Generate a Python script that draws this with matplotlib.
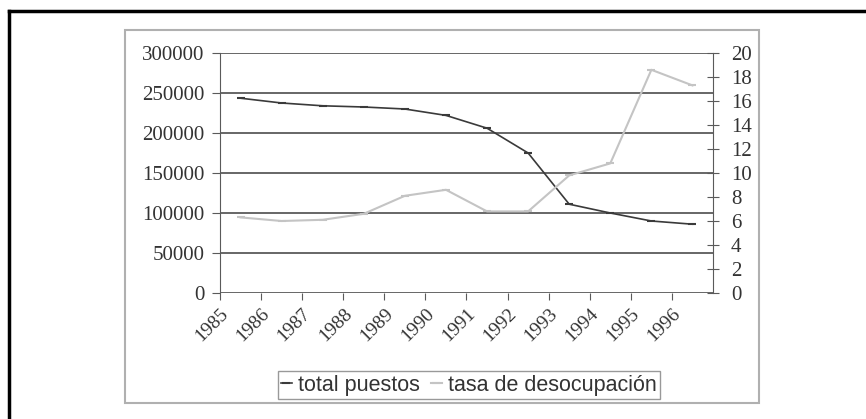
import numpy as np
import matplotlib
matplotlib.use("Agg")
import matplotlib.pyplot as plt
from matplotlib.patches import Rectangle
from matplotlib.lines import Line2D

# -----------------------------------------------------------------------------
# Data
# -----------------------------------------------------------------------------
years = ["1985", "1986", "1987", "1988", "1989", "1990",
         "1991", "1992", "1993", "1994", "1995", "1996"]
total_puestos = [243500, 237500, 234000, 232500, 230000, 222000,
                 206000, 175000, 111000, 100000, 90000, 86000]
tasa_desocupacion = [6.3, 6.0, 6.1, 6.6, 8.1, 8.6,
                     6.8, 6.8, 9.8, 10.8, 18.6, 17.3]

left_ticks = [0, 50000, 100000, 150000, 200000, 250000, 300000]
right_ticks = [0, 2, 4, 6, 8, 10, 12, 14, 16, 18, 20]

DARK = "#3a3a3a"
LIGHT = "#c4c4c4"
GRID = "#5a5a5a"

W, H = 866, 419
fig = plt.figure(figsize=(W / 100, H / 100), dpi=100)
fig.patch.set_facecolor("white")


def fx(px):
    return px / W


def fy(py):
    return 1 - py / H


# outer black frame (only left and top edges are visible)
fig.add_artist(Line2D([fx(9), fx(9)], [fy(11), fy(419)], color="black", lw=2.5,
                      transform=fig.transFigure))
fig.add_artist(Line2D([fx(9), fx(866)], [fy(11), fy(11)], color="black", lw=2.5,
                      transform=fig.transFigure))

# chart area box with a soft gray edge
fig.add_artist(Rectangle((fx(125), fy(403)), fx(759) - fx(125), fy(30) - fy(403),
                         transform=fig.transFigure, facecolor="white",
                         edgecolor="#b0b0b0", lw=1.5, zorder=0))

ax = fig.add_axes([fx(220), fy(293), fx(713) - fx(220), fy(53) - fy(293)])
ax2 = ax.twinx()

x = np.arange(len(years))
ax.set_xlim(-0.5, len(years) - 0.5)
ax.set_ylim(0, 300000)
ax2.set_ylim(0, 20)

ax.set_yticks(left_ticks)
ax.set_yticklabels([str(v) for v in left_ticks])
ax2.set_yticks(right_ticks)
ax2.set_yticklabels([str(v) for v in right_ticks])

for v in left_ticks:
    ax.axhline(v, color=GRID, lw=1.3, zorder=1)

ax.plot(x, total_puestos, color=DARK, lw=1.2, marker="_", ms=6, mew=1.5,
        zorder=3, label="total puestos")
ax2.plot(x, tasa_desocupacion, color=LIGHT, lw=1.5, marker="_", ms=6, mew=1.5,
         zorder=3, label="tasa de desocupación")

# year labels sit on the category boundaries, as in the original
ax.set_xticks(x - 0.5)
ax.set_xticklabels(years, rotation=45, ha="right", va="top",
                   rotation_mode="anchor", family="Liberation Serif",
                   fontsize=14, color="#333333")
ax.tick_params(axis="x", direction="out", length=5, color=GRID, pad=4)

for a in (ax, ax2):
    for s in a.spines.values():
        s.set_visible(False)
ax.spines["left"].set_visible(True)
ax.spines["left"].set_color(GRID)
ax2.spines["right"].set_visible(True)
ax2.spines["right"].set_color(GRID)

ax.tick_params(axis="y", direction="out", length=6, color=GRID, pad=5,
               labelsize=15, labelcolor="#333333")
ax2.tick_params(axis="y", direction="inout", length=8, color=GRID, pad=9,
                labelsize=15, labelcolor="#333333")
for lab in ax.get_yticklabels() + ax2.get_yticklabels():
    lab.set_family("Liberation Serif")

# legend box under the plot
handles = ax.get_lines()[-1:] + ax2.get_lines()
labels = ["total puestos", "tasa de desocupación"]
leg = fig.legend(handles, labels, loc="center",
                 bbox_to_anchor=(fx(469), fy(385)), ncol=2,
                 frameon=True, fancybox=False, edgecolor="#808080",
                 handlelength=0.5, handletextpad=0.3, columnspacing=0.5,
                 borderpad=0.15, prop={"family": "Liberation Sans", "size": 15.5})
leg.get_frame().set_linewidth(1.0)
for t in leg.get_texts():
    t.set_color("#333333")

fig.savefig("out.png", dpi=100)
